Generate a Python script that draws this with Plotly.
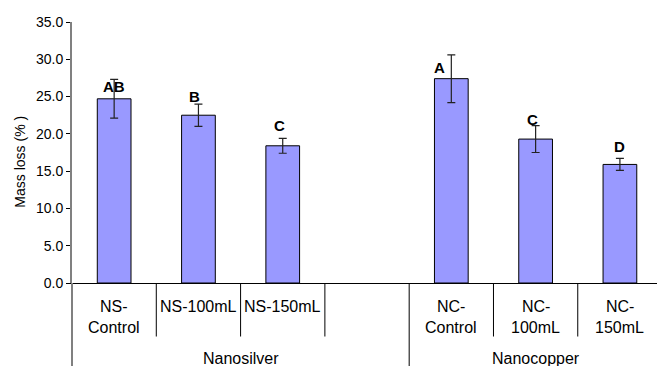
import plotly.graph_objects as go

# ---- data ----
slot_labels = ["NS-\nControl", "NS-100mL", "NS-150mL", "", "NC-\nControl", "NC-\n100mL", "NC-\n150mL"]
categories = ["NS-Control", "NS-100mL", "NS-150mL", "NC-Control", "NC-100mL", "NC-150mL"]
cat_slots = [0, 1, 2, 4, 5, 6]
mass_loss = [24.7, 22.5, 18.4, 27.4, 19.3, 15.9]
errors = [2.6, 1.5, 1.0, 3.2, 1.8, 0.8]
letters = ["AB", "B", "C", "A", "C", "D"]
groups = ["Nanosilver", "Nanocopper"]
group_slots = [[0, 1, 2, 3], [4, 5, 6]]
y_ticks = [0, 5, 10, 15, 20, 25, 30, 35]

# ---- style ----
FONT = "Liberation Sans, Arial, sans-serif"
letter_dy = [1.65, 2.5, 2.7, 1.5, 2.6, 2.4]      # data-unit offset of letter above bar top
letter_dx = [0, -4, -3, -12, -3, 0]              # pixel nudges
x_range = [-0.5, 6.44]
H_PLOT = 261

fig = go.Figure()
fig.add_trace(go.Bar(
    x=cat_slots, y=mass_loss, width=0.4,
    marker=dict(color="#9999FF", line=dict(color="#000000", width=1)),
    error_y=dict(type="data", array=errors, visible=True, color="#222222",
                 thickness=1.2, width=4),
    hovertext=categories, showlegend=False,
))

ann = []
for s, v, L, dy, dx in zip(cat_slots, mass_loss, letters, letter_dy, letter_dx):
    ann.append(dict(x=s, y=v + dy, xref="x", yref="y", text=f"<b>{L}</b>",
                    showarrow=False, xshift=dx,
                    font=dict(family=FONT, size=15, color="black")))

for i, lab in enumerate(slot_labels):
    for j, line in enumerate(lab.split("\n")):
        if not line:
            continue
        ann.append(dict(x=i, y=0, xref="x", yref="paper", text=line, showarrow=False,
                        xanchor="center", yanchor="middle", yshift=-23.5 - 21 * j,
                        font=dict(family=FONT, size=16, color="black")))

for g, sl in zip(groups, group_slots):
    cx = (sl[0] + sl[-1]) / 2
    ann.append(dict(x=cx, y=0, xref="x", yref="paper", text=g, showarrow=False,
                    xanchor="center", yanchor="middle", yshift=-75.5,
                    font=dict(family=FONT, size=16, color="black")))

ann.append(dict(x=0, y=0.465, xref="paper", yref="paper", text="Mass loss (% )",
                textangle=-90, showarrow=False, xshift=-52,
                xanchor="center", yanchor="middle",
                font=dict(family=FONT, size=14, color="black")))

def px_to_paper(p):
    return p / H_PLOT

shapes = []
# y axis extension below
shapes.append(dict(type="line", xref="paper", yref="paper", x0=0, x1=0,
                   y0=0, y1=-px_to_paper(83), line=dict(color="#808080", width=2)))
n_slots = len(slot_labels)
for k in range(1, n_slots):
    b = k - 0.5
    long_line = (k == len(group_slots[0]))
    xp = (b - x_range[0]) / (x_range[1] - x_range[0])
    shapes.append(dict(type="line", xref="paper", yref="paper", x0=xp, x1=xp,
                       y0=0, y1=-px_to_paper(83 if long_line else 53.5),
                       line=dict(color="#000000", width=1)))

fig.update_layout(
    width=657, height=366,
    margin=dict(l=72, r=0, t=22, b=83),
    paper_bgcolor="white", plot_bgcolor="white",
    font=dict(family=FONT, size=14, color="black"),
    bargap=0.6,
    annotations=ann, shapes=shapes,
    xaxis=dict(range=x_range, showticklabels=False, ticks="", showgrid=False,
               zeroline=False, showline=True, linecolor="black", linewidth=1),
    yaxis=dict(range=[0, 35], tickvals=y_ticks, tickformat=".1f", ticks="outside",
               ticklen=4, tickcolor="black", showgrid=False, zeroline=False,
               showline=True, linecolor="#808080", linewidth=2,
               tickfont=dict(family=FONT, size=14, color="black")),
)

fig.write_html("out.html", config={"displayModeBar": False},
               post_script="document.body.style.margin='0';document.body.style.overflow='hidden';")
